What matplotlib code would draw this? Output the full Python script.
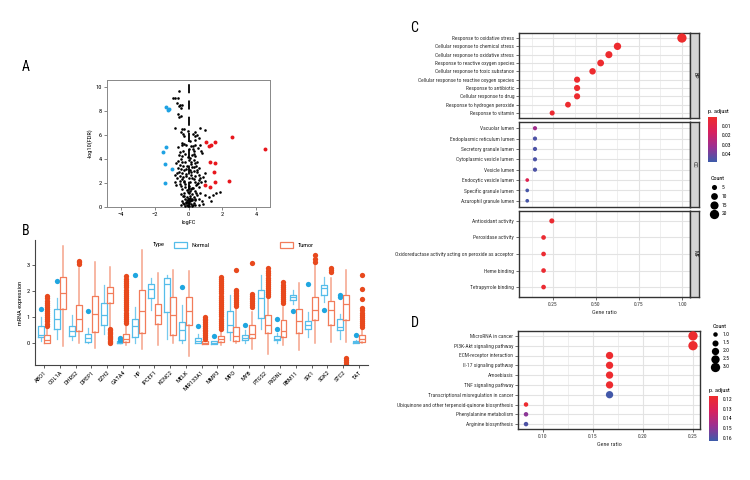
import numpy as np
import matplotlib
matplotlib.use('Agg')
import matplotlib.pyplot as plt
import matplotlib.font_manager as fm
from matplotlib.colors import LinearSegmentedColormap, Normalize
from matplotlib.cm import ScalarMappable
from matplotlib.patches import Patch

# pick a narrow font if one is installed
narrow = None
for want in ['Liberation Sans Narrow', 'Roboto Condensed', 'Open Sans Condensed', 'DejaVu Sans Condensed']:
    if any(f.name == want for f in fm.fontManager.ttflist):
        narrow = want
        break
if narrow is None:
    for f in fm.fontManager.ttflist:
        if 'condensed' in f.stretch or 'Narrow' in f.name or 'Condensed' in f.name:
            narrow = f.name
            plt.rcParams['font.stretch'] = 'condensed'
            break
plt.rcParams['font.family'] = [narrow, 'DejaVu Sans'] if narrow else ['DejaVu Sans']

# ---------------- panel A: volcano ----------------
black_x = [-0.56, -0.9, -0.8, -0.64, -0.7, -0.5, -0.36, -0.56, -0.44, -0.64, -0.44, -0.54, -0.8, -0.36,
           -0.24, -0.44, -0.32, -0.04, 0.4, 0.7, 1.0, 0.24, 0.36, 0.5, 0.6, 0.4, -0.24, 0.1,
           -0.36, -0.24, -0.16, -0.4, 0.16, 0.26, 0.4, -0.6, 0.7, 0.04, 0.34, 0.56, 0.76, -0.32,
           -0.48, -0.2, 0.2, 0.4, -0.36, -0.04, 0.08, 0.3, 0.8,
           -0.6, -0.4, -0.2, 0.16, 0.36, 0.5, -0.74, -0.5, -0.3, -0.1, 0.2, 0.44, 0.6, -0.64,
           -0.44, -0.24, 0.06, 0.3, 0.5, 1.0, -0.56, -0.36,
           -0.8, -0.48, -0.16, 0.16, 0.4, 0.64, 0.84, -0.66, -0.36, 0.0, 0.32, 0.6, -0.8, -0.5,
           -0.24, 0.1, 0.4, 0.76, 1.0,
           -0.72, -0.44, -0.2, 0.04, 0.24, -0.36, -0.08, 0.16, 0.4, -0.24, 0.0, 0.2, 1.84, 1.64,
           1.44, 0.7, 1.0, 1.2, 1.3,
           -0.3, -0.1, 0.1, 0.3, 0.5, -0.2, 0.0, 0.2, 0.4, 0.6, 0.8, -0.36, -0.16, 0.08, 0.32,
           -0.28, -0.08, 0.16, 0.4, -0.2, 0.0, 0.2, 0.64, 0.84, -0.44,
           -0.1, 0.05, -0.05, 0.12, -0.15, 0.25, 0.0, -0.3, 0.15, 0.45, -0.12, 0.02, 0.3, -0.22,
           0.1, -0.05, 0.2, 0.55, -0.45, 0.35,
           -0.52, -0.28, 0.22, 0.48, -0.68, 0.62, -0.12, 0.14, -0.42, 0.28, 0.52, -0.58, 0.68,
           -0.26, 0.06, 0.36, -0.06, 0.18, -0.34, 0.44]
black_y = [9.72, 9.1, 9.1, 9.1, 8.65, 8.54, 8.54, 8.4, 8.25, 7.75, 7.6, 7.52, 6.62, 6.54,
           6.48, 6.28, 6.11, 6.34, 6.28, 6.62, 6.39, 6.11, 5.92, 6.0, 5.77, 5.63, 5.92, 5.49,
           5.35, 5.3, 5.21, 5.15, 5.13, 5.07, 5.15, 4.99, 5.15, 4.87, 4.7, 4.93, 4.65, 4.65,
           4.59, 4.42, 4.37, 4.23, 4.23, 4.14, 4.08, 3.94, 4.51,
           3.86, 3.75, 3.75, 3.75, 3.66, 3.75, 3.66, 3.52, 3.46, 3.46, 3.38, 3.46, 3.24, 3.24,
           3.15, 3.07, 3.1, 3.01, 2.96, 2.82, 2.9, 2.82,
           2.68, 2.62, 2.62, 2.68, 2.59, 2.68, 2.54, 2.39, 2.34, 2.39, 2.34, 2.25, 2.11, 2.17,
           2.06, 2.11, 2.06, 2.11, 2.17,
           1.83, 1.77, 1.69, 1.77, 1.61, 1.49, 1.41, 1.49, 1.32, 1.21, 1.13, 1.1, 1.27, 1.13,
           1.04, 1.13, 0.99, 0.85, 0.48,
           0.93, 0.85, 0.93, 0.85, 0.99, 0.7, 0.65, 0.7, 0.56, 0.65, 0.48, 0.48, 0.42, 0.48, 0.37,
           0.25, 0.2, 0.25, 0.2, 0.08, 0.06, 0.08, 0.14, 0.28, 0.14,
           0.55, 0.3, 0.12, 0.62, 0.35, 0.15, 1.6, 2.5, 2.9, 1.8, 3.2, 3.9, 4.4, 1.95,
           0.78, 1.25, 2.45, 2.0, 1.05, 3.3,
           1.9, 2.2, 1.55, 1.9, 2.8, 1.7, 2.75, 3.6, 4.0, 4.8, 3.05, 4.3, 2.4,
           0.95, 1.35, 0.7, 0.4, 0.62, 0.3, 1.15]
red_x = [2.56, 4.5, 1.04, 1.56, 1.2, 1.32, 1.28, 1.56, 1.48, 1.56, 2.4, 1.0, 1.26]
red_y = [5.86, 4.87, 5.41, 5.41, 5.07, 5.18, 3.72, 3.66, 2.96, 2.11, 2.17, 1.83, 1.69]
blue_x = [-1.3, -1.16, -1.22, -1.32, -1.5, -1.36, -1.0, -1.4]
blue_y = [8.31, 8.17, 8.11, 5.01, 4.56, 3.58, 3.15, 2.03]

# ---------------- panel B: boxplots ----------------
genes = ['ABO1', 'COL1A', 'DHRS2', 'DPEP1', 'EZH2', 'GATA4', 'HP', 'IPCEF1', 'KCNC2', 'MELK',
         'MIR133A1', 'MMP3', 'MPO', 'MYB', 'PTGS2', 'PXDNL', 'RBM11', 'SIX1', 'SGK2', 'STC2', 'TAT']

n_q1 = [0.24, 0.56, 0.27, 0.05, 0.72, 0.00, 0.24, 1.72, 1.21, 0.12, 0.03, -0.01, 0.44, 0.12, 0.97, 0.12, 1.65, 0.54, 1.87, 0.50, 0.03]
n_med = [0.33, 0.92, 0.46, 0.22, 1.08, 0.03, 0.67, 2.08, 2.26, 0.50, 0.10, 0.03, 0.72, 0.20, 1.72, 0.18, 1.76, 0.72, 2.13, 0.63, 0.05]
n_q3 = [0.65, 1.31, 0.65, 0.35, 1.53, 0.08, 0.95, 2.26, 2.49, 0.82, 0.20, 0.08, 1.23, 0.31, 2.04, 0.27, 1.85, 0.85, 2.23, 0.95, 0.09]
n_lo = [0.08, 0.18, 0.12, 0.00, 0.37, 0.00, 0.00, 1.27, 0.18, 0.00, 0.00, -0.01, 0.12, 0.00, 0.56, 0.00, 1.50, 0.24, 1.60, 0.18, 0.02]
n_hi = [1.01, 1.74, 1.10, 0.59, 2.23, 0.10, 1.40, 2.51, 2.62, 1.46, 0.37, 0.10, 1.87, 0.50, 2.62, 0.40, 2.05, 1.20, 2.55, 1.14, 0.12]
n_out = [[1.33], [2.40], [], [1.23], [], [0.10, 0.15, 0.20], [2.60], [], [], [2.17], [0.65], [0.28],
         [], [0.72], [], [0.56, 0.95], [1.23], [2.26], [1.27], [1.78, 1.85], [0.33]]

t_q1 = [0.01, 1.31, 0.49, 0.44, 1.53, 0.05, 0.41, 0.76, 0.33, 0.69, -0.01, 0.05, 0.08, 0.20, 0.40, 0.24, 0.41, 0.88, 0.69, 0.88, 0.05]
t_med = [0.14, 1.91, 0.92, 1.14, 1.91, 0.15, 1.23, 1.10, 1.08, 1.23, 0.03, 0.15, 0.28, 0.35, 0.69, 0.46, 0.85, 1.29, 1.27, 1.49, 0.18]
t_q3 = [0.33, 2.55, 1.46, 1.82, 2.17, 0.36, 2.04, 1.49, 1.78, 1.78, 0.08, 0.27, 0.63, 0.69, 1.10, 0.88, 1.31, 1.78, 1.62, 1.87, 0.33]
t_lo = [0.00, -0.12, 0.00, -0.18, 0.60, -0.08, -0.20, -0.08, 0.00, -0.48, -0.01, -0.08, 0.00, -0.20, -0.40, -0.08, -0.25, 0.00, 0.05, 0.05, 0.00]
t_hi = [0.60, 3.74, 2.90, 3.10, 2.91, 0.70, 3.58, 2.68, 2.81, 2.77, 0.12, 0.45, 1.40, 1.20, 1.75, 1.40, 2.30, 3.00, 2.50, 2.80, 0.55]
t_out = [
    [0.68, 0.76, 0.84, 0.92, 1.00, 1.08, 1.16, 1.24, 1.32, 1.40, 1.48, 1.56, 1.64, 1.72, 1.80],
    [],
    [3.04, 3.10, 3.16],
    [],
    [0.00, 0.05, 0.10, 0.15, 0.20, 0.25, 0.30, 0.35, 0.40, 0.45, 0.50, 0.55],
    [0.78, 0.86, 0.94, 1.02, 1.10, 1.18, 1.26, 1.34, 1.42, 1.50, 1.58, 1.66, 1.74, 1.82, 1.90,
     1.98, 2.06, 2.14, 2.22, 2.30, 2.38, 2.46, 2.58],
    [], [], [], [],
    [0.18, 0.25, 0.32, 0.39, 0.46, 0.53, 0.60, 0.67, 0.74, 0.81, 0.88, 0.95, 1.00],
    [0.55, 0.63, 0.71, 0.79, 0.87, 0.95, 1.03, 1.11, 1.19, 1.27, 1.35, 1.43, 1.51, 1.59, 1.67,
     1.75, 1.83, 1.91, 1.99, 2.07, 2.15, 2.23, 2.31, 2.39, 2.47, 2.55],
    [1.45, 1.52, 1.59, 1.66, 1.73, 1.80, 1.87, 1.94, 2.01, 2.05, 2.80],
    [1.40, 1.47, 1.54, 1.61, 1.68, 1.75, 1.82, 1.90, 3.06],
    [1.80, 1.88, 1.96, 2.04, 2.12, 2.20, 2.28, 2.36, 2.44, 2.52, 2.60, 2.68, 2.76, 2.87],
    [1.53, 1.61, 1.69, 1.77, 1.85, 1.93, 2.01, 2.09, 2.17, 2.25, 2.36],
    [],
    [3.13, 3.25, 3.38],
    [2.75, 2.82, 2.90],
    [-0.55, -0.62, -0.70, -0.78],
    [0.62, 0.70, 0.78, 0.86, 0.94, 1.02, 1.10, 1.18, 1.26, 1.34, 1.70, 2.10, 2.62],
]

# ---------------- panel C: GO dot plot ----------------
go_bp = ['Response to oxidative stress', 'Cellular response to chemical stress',
         'Cellular response to oxidative stress', 'Response to reactive oxygen species',
         'Cellular response to toxic substance', 'Cellular response to reactive oxygen species',
         'Response to antibiotic', 'Cellular response to drug', 'Response to hydrogen peroxide',
         'Response to vitamin']
bp_ratio = [1.0, 0.625, 0.575, 0.527, 0.48, 0.39, 0.39, 0.39, 0.337, 0.245]
bp_count = [20, 12, 11, 10, 9, 8, 8, 8, 7, 5]
bp_p = [0.0005, 0.001, 0.001, 0.001, 0.001, 0.001, 0.001, 0.001, 0.001, 0.002]

go_cc = ['Vacuolar lumen', 'Endoplasmic reticulum lumen', 'Secretory granule lumen',
         'Cytoplasmic vesicle lumen', 'Vesicle lumen', 'Endocytic vesicle lumen',
         'Specific granule lumen', 'Azurophil granule lumen']
cc_ratio = [0.145, 0.145, 0.145, 0.145, 0.145, 0.10, 0.10, 0.10]
cc_count = [3, 3, 3, 3, 3, 2, 2, 2]
cc_p = [0.031, 0.046, 0.046, 0.046, 0.046, 0.012, 0.047, 0.047]

go_mf = ['Antioxidant activity', 'Peroxidase activity',
         'Oxidoreductase activity acting on peroxide as acceptor', 'Heme binding',
         'Tetrapyrrole binding']
mf_ratio = [0.243, 0.195, 0.195, 0.195, 0.195]
mf_count = [5, 4, 4, 4, 4]
mf_p = [0.002, 0.002, 0.002, 0.002, 0.002]

# ---------------- panel D: KEGG dot plot ----------------
kegg = ['MicroRNA in cancer', 'PI3K-Akt signaling pathway', 'ECM-receptor interaction',
        'Il-17 signaling pathway', 'Amoebiasis', 'TNF signaling pathway',
        'Transcriptional misregulation in cancer',
        'Ubiquinone and other terpenoid-quinone biosynthesis', 'Phenylalanine metabolism',
        'Arginine biosynthesis']
kegg_ratio = [0.25, 0.25, 0.1667, 0.1667, 0.1667, 0.1667, 0.1667, 0.0833, 0.0833, 0.0833]
kegg_count = [3, 3, 2, 2, 2, 2, 2, 1, 1, 1]
kegg_p = [0.118, 0.118, 0.118, 0.118, 0.118, 0.118, 0.162, 0.118, 0.150, 0.160]

cmap = LinearSegmentedColormap.from_list('padj', ['#EE2C2C', '#D8205E', '#9A2F92', '#3C5BAA'])
grid_c = '#E3E3E3'
text_c = '#333333'
FS = 4.6
TERM_FS = 4.0

fig = plt.figure(figsize=(7.5, 4.8), dpi=100)


def fax(l, t, r, b):
    # axes from pixel box (left, top, right, bottom)
    return fig.add_axes([l / 750, 1 - b / 480, (r - l) / 750, (b - t) / 480])


def size_pts(c, cmin, cmax, dmin, dmax):
    c = np.asarray(c, dtype=float)
    d = np.sqrt(dmin ** 2 + (dmax ** 2 - dmin ** 2) * (c - cmin) / (cmax - cmin))
    return (d * 0.72) ** 2


# ---- A ----
ax = fax(107, 80, 270, 207)
ax.scatter(black_x, black_y, s=3.5, c='black', linewidths=0, zorder=3)
ax.scatter(red_x, red_y, s=8, c='#E8161C', linewidths=0, zorder=3)
ax.scatter(blue_x, blue_y, s=8, c='#1EA2E3', linewidths=0, zorder=3)
ax.axvline(0, color='black', lw=1.3, ls=(0, (5, 4)), ymax=0.985, zorder=2)
ax.set_xlim(-4.8, 4.8)
ax.set_ylim(0, 10.6)
ax.set_xticks([-4, -2, 0, 2, 4])
ax.set_yticks([0, 2, 4, 6, 8, 10])
ax.tick_params(labelsize=FS, length=2, width=0.5, color='#555555', pad=1.5)
for s in ax.spines.values():
    s.set_color('#888888')
    s.set_linewidth(0.7)
ax.set_xlabel('logFC', fontsize=FS, labelpad=2)
ax.set_ylabel('-log10(FDR)', fontsize=FS, labelpad=2)
fig.text(22 / 750, 1 - 67 / 480, 'A', fontsize=10, ha='left', va='center')

# ---- B ----
ax = fax(35, 240, 368, 365)
pos = np.arange(len(genes))
n_stats = []
t_stats = []
for i in range(len(genes)):
    n_stats.append({'med': n_med[i], 'q1': n_q1[i], 'q3': n_q3[i], 'whislo': n_lo[i],
                    'whishi': n_hi[i], 'fliers': n_out[i]})
    t_stats.append({'med': t_med[i], 'q1': t_q1[i], 'q3': t_q3[i], 'whislo': t_lo[i],
                    'whishi': t_hi[i], 'fliers': t_out[i]})

n_col = '#55BDEA'
t_col = '#F27C5A'
ax.bxp(n_stats, positions=pos - 0.21, widths=0.38, showcaps=False,
       boxprops=dict(color=n_col, lw=0.9), medianprops=dict(color=n_col, lw=0.9),
       whiskerprops=dict(color=n_col, lw=0.9, alpha=0.8),
       flierprops=dict(marker='o', markerfacecolor='#1FA6E0', markeredgecolor='none', markersize=3.8))
ax.bxp(t_stats, positions=pos + 0.21, widths=0.38, showcaps=False,
       boxprops=dict(color=t_col, lw=0.9), medianprops=dict(color=t_col, lw=0.9),
       whiskerprops=dict(color=t_col, lw=1.1, alpha=0.7),
       flierprops=dict(marker='o', markerfacecolor='#E8491D', markeredgecolor='none', markersize=3.8))
ax.set_xlim(-0.58, len(genes) - 0.42)
ax.set_ylim(-0.83, 3.96)
ax.set_xticks(pos)
ax.set_xticklabels(genes, rotation=45, ha='right', rotation_mode='anchor', fontsize=4.3)
ax.set_yticks([0, 1, 2, 3])
ax.tick_params(labelsize=FS, length=2, width=0.6, color='#444444', pad=1.5)
ax.spines['top'].set_visible(False)
ax.spines['right'].set_visible(False)
for s in ['left', 'bottom']:
    ax.spines[s].set_color('#444444')
    ax.spines[s].set_linewidth(0.8)
ax.set_ylabel('mRNA expression', fontsize=FS, labelpad=3)
fig.text(153 / 750, 1 - 245 / 480, 'Type', fontsize=FS, va='center')
ax.legend(handles=[Patch(facecolor='white', edgecolor=n_col, lw=0.9, label='Normal'),
                   Patch(facecolor='white', edgecolor=t_col, lw=0.9, label='Tumor')],
          ncol=2, frameon=False, fontsize=FS, loc='center left',
          bbox_to_anchor=(0.4, 0.96), handlelength=2.0, handleheight=1.0,
          columnspacing=11, handletextpad=0.8)
fig.text(22 / 750, 1 - 231 / 480, 'B', fontsize=10, ha='left', va='center')

# ---- C ----
norm_c = Normalize(0.0, 0.049)
facets = [(go_bp, bp_ratio, bp_count, bp_p, 'BP', 33, 118),
          (go_cc, cc_ratio, cc_count, cc_p, 'CC', 122, 207),
          (go_mf, mf_ratio, mf_count, mf_p, 'MF', 211, 297)]
for k, (terms, ratio, count, pv, lab, top, bot) in enumerate(facets):
    ax = fax(519, top, 690, bot)
    n = len(terms)
    y = n - 1 - np.arange(n)
    ax.set_axisbelow(True)
    ax.scatter(ratio, y, s=size_pts(count, 2, 20, 3.7, 9.3), c=cmap(norm_c(np.array(pv))),
               linewidths=0, zorder=3)
    ax.set_xlim(0.052, 1.047)
    ax.set_ylim(-0.6, n - 0.4)
    ax.set_yticks(y)
    ax.set_yticklabels(terms, fontsize=TERM_FS, color=text_c)
    ax.set_xticks([0.25, 0.5, 0.75, 1.0])
    ax.set_xticks([0.125, 0.375, 0.625, 0.875], minor=True)
    ax.grid(True, which='major', color=grid_c, lw=0.8)
    ax.grid(True, which='minor', axis='x', color=grid_c, lw=0.4)
    ax.tick_params(which='both', length=2, width=0.5, color='#333333', pad=1.5)
    ax.tick_params(which='minor', length=0)
    for s in ax.spines.values():
        s.set_color('#333333')
        s.set_linewidth(1.0)
    if k < 2:
        ax.tick_params(axis='x', labelbottom=False, length=0)
    else:
        ax.set_xticklabels(['0.25', '0.50', '0.75', '1.00'], fontsize=TERM_FS, color=text_c)
        ax.set_xlabel('Gene ratio', fontsize=4.4, labelpad=2, color=text_c)
    sax = fax(690, top, 699, bot)
    sax.set_facecolor('#D4D4D4')
    sax.set_xticks([])
    sax.set_yticks([])
    for s in sax.spines.values():
        s.set_color('#333333')
        s.set_linewidth(1.0)
    sax.text(0.5, 0.5, lab, rotation=-90, ha='center', va='center', fontsize=4.2,
             color='#1A1A1A', transform=sax.transAxes)
fig.text(410 / 750, 1 - 28 / 480, 'C', fontsize=10, ha='left', va='center')

cax = fax(708, 117, 717, 162)
cb = fig.colorbar(ScalarMappable(norm=norm_c, cmap=cmap), cax=cax)
cb.outline.set_visible(False)
cax.invert_yaxis()
cb.set_ticks([0.01, 0.02, 0.03, 0.04])
cax.tick_params(labelsize=TERM_FS, length=2, width=0.5, color='white', pad=1.5)
cax.set_title('p. adjust', fontsize=4.4, loc='left', pad=3)

hc = [ax.scatter([], [], s=size_pts(v, 2, 20, 3.7, 9.3), c='black', linewidths=0, label=str(v))
      for v in [5, 10, 15, 20]]
fig.legend(handles=hc, title='Count', loc='upper left', bbox_to_anchor=(705 / 750, 1 - 172 / 480),
           frameon=False, fontsize=TERM_FS, title_fontsize=4.4, labelspacing=0.7,
           handletextpad=0.3, borderpad=0.2)

# ---- D ----
norm_d = Normalize(0.117, 0.163)
ax = fax(518, 331, 700, 429)
n = len(kegg)
y = n - 1 - np.arange(n)
ax.set_axisbelow(True)
ax.scatter(kegg_ratio, y, s=size_pts(kegg_count, 1, 3, 4.5, 9.3),
           c=cmap(norm_d(np.array(kegg_p))), linewidths=0, zorder=3)
ax.set_xlim(0.0753, 0.257)
ax.set_ylim(-0.5, n - 0.5)
ax.set_yticks(y)
ax.set_yticklabels(kegg, fontsize=TERM_FS, color=text_c)
ax.set_xticks([0.10, 0.15, 0.20, 0.25])
ax.set_xticklabels(['0.10', '0.15', '0.20', '0.25'], fontsize=TERM_FS, color=text_c)
ax.set_xticks([0.125, 0.175, 0.225], minor=True)
ax.grid(True, which='major', color=grid_c, lw=0.8)
ax.grid(True, which='minor', axis='x', color=grid_c, lw=0.4)
ax.tick_params(which='both', length=2, width=0.5, color='#333333', pad=1.5)
ax.tick_params(which='minor', length=0)
for s in ax.spines.values():
    s.set_color('#333333')
    s.set_linewidth(1.0)
ax.set_xlabel('Gene ratio', fontsize=4.4, labelpad=2, color=text_c)
fig.text(411 / 750, 1 - 323 / 480, 'D', fontsize=10, ha='left', va='center')

hd = [ax.scatter([], [], s=size_pts(v, 1, 3, 4.5, 9.3), c='black', linewidths=0, label=f'{v:.1f}')
      for v in [1.0, 1.5, 2.0, 2.5, 3.0]]
fig.legend(handles=hd, title='Count', loc='upper left', bbox_to_anchor=(706 / 750, 1 - 320 / 480),
           frameon=False, fontsize=TERM_FS, title_fontsize=4.4, labelspacing=0.55,
           handletextpad=0.3, borderpad=0.2)

cax = fax(709, 396, 718, 441)
cb = fig.colorbar(ScalarMappable(norm=norm_d, cmap=cmap), cax=cax)
cb.outline.set_visible(False)
cax.invert_yaxis()
cb.set_ticks([0.12, 0.13, 0.14, 0.15, 0.16])
cax.tick_params(labelsize=TERM_FS, length=2, width=0.5, color='white', pad=1.5)
cax.set_title('p. adjust', fontsize=4.4, loc='left', pad=3)

fig.savefig('out.png', dpi=100, facecolor='white')
